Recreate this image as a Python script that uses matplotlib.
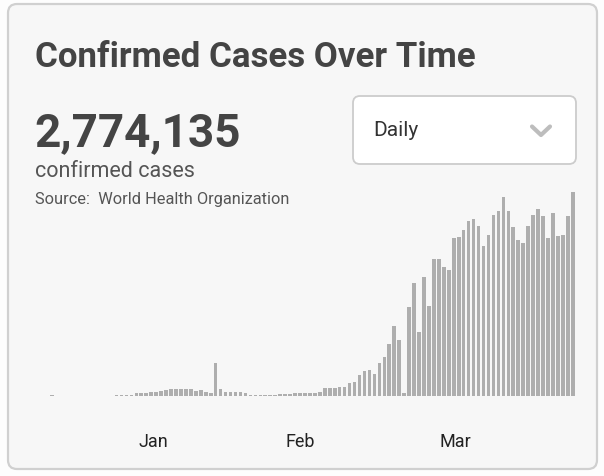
import matplotlib.pyplot as plt
from matplotlib.patches import FancyBboxPatch

plt.rcParams['font.family'] = ['Roboto', 'DejaVu Sans']

# daily new confirmed cases (thousands), one bar per day
daily_cases = [
    0.4, 0, 0, 0, 0, 0, 0, 0.2, 0.2, 0.2,
    0.2, 0.2, 0.2, 0.4, 0.5, 0.6, 0.7, 1.3, 1.3, 1.4,
    1.7, 1.9, 2.4, 2.7, 3.1, 3.4, 3.4, 3.1, 3.1, 2.5,
    2.8, 2.0, 1.6, 15.4, 3.5, 2.1, 1.9, 1.9, 1.7, 1.6,
    0.5, 0.6, 0.4, 0.6, 0.5, 0.6, 0.8, 0.9, 1.0, 1.2,
    1.3, 1.4, 1.6, 1.6, 2.0, 3.6, 3.6, 3.6, 4.2, 4.2,
    6.0, 6.4, 9.9, 11.6, 12.4, 10.3, 15.4, 18.3, 24.6, 32.7,
    26.5, 1.4, 41.8, 53.1, 30.2, 55.9, 42.3, 64.2, 64.2, 60.6,
    59.2, 74.4, 74.9, 78.0, 82.1, 83.0, 79.7, 70.4, 75.8, 84.9,
    87.0, 93.5, 86.9, 79.3, 73.4, 71.7, 80.0, 84.9, 88.0, 84.5,
    74.4, 86.0, 75.4, 75.9, 84.5, 95.9,
]
tick_pos = [20.4, 50.0, 81.3]
tick_labels = ['Jan', 'Feb', 'Mar']

title = 'Confirmed Cases Over Time'
total_text = '2,774,135'
subtitle = 'confirmed cases'
source = 'Source:  World Health Organization'
period = 'Daily'

W, H = 604, 477
fig = plt.figure(figsize=(W / 100, H / 100), dpi=100)
fig.patch.set_facecolor('#fdfdfd')

# background layer in pixel coordinates
bg = fig.add_axes([0, 0, 1, 1])
bg.set_xlim(0, W)
bg.set_ylim(H, 0)
bg.axis('off')

card = FancyBboxPatch((8, 5), 589, 465, boxstyle='round,pad=0,rounding_size=9',
                      fc='#f7f7f7', ec='#d0d0d0', lw=1.6)
bg.add_patch(card)

bg.text(35, 67, title, fontsize=25.1, fontweight='bold', color='#444444', va='baseline')
bg.text(34, 146, total_text, fontsize=33, fontweight='bold', color='#444444', va='baseline')
bg.text(35, 177, subtitle, fontsize=15.5, color='#555555', va='baseline')
bg.text(35, 204, source, fontsize=11.8, color='#555555', va='baseline')

# dropdown
box = FancyBboxPatch((353, 97), 223, 68, boxstyle='round,pad=0,rounding_size=7',
                     fc='#ffffff', ec='#cccccc', lw=1.3)
bg.add_patch(box)
bg.text(373, 131, period, fontsize=15, color='#333333', va='center')
bg.plot([532, 541, 550], [127.5, 136, 127.5], color='#bdbdbd', lw=3,
        solid_capstyle='round', solid_joinstyle='round')

# bar chart
n = len(daily_cases)
step = 4.96
left = 52 - step / 2
base = 397
ymax = 100
px_per_unit = 204 / 95.9
ax = fig.add_axes([left / W, (H - base) / H, n * step / W, ymax * px_per_unit / H])
ax.set_facecolor('none')
ax.bar(range(n), daily_cases, width=0.72, color='#aeaeae', linewidth=0)
ax.set_xlim(-0.5, n - 0.5)
ax.set_ylim(0, ymax)
for s in ax.spines.values():
    s.set_visible(False)
ax.set_yticks([])
ax.set_xticks(tick_pos, tick_labels)
ax.tick_params(axis='x', length=0, pad=26, labelsize=13, labelcolor='#222222')

plt.savefig('out.png', dpi=100, facecolor=fig.get_facecolor())
